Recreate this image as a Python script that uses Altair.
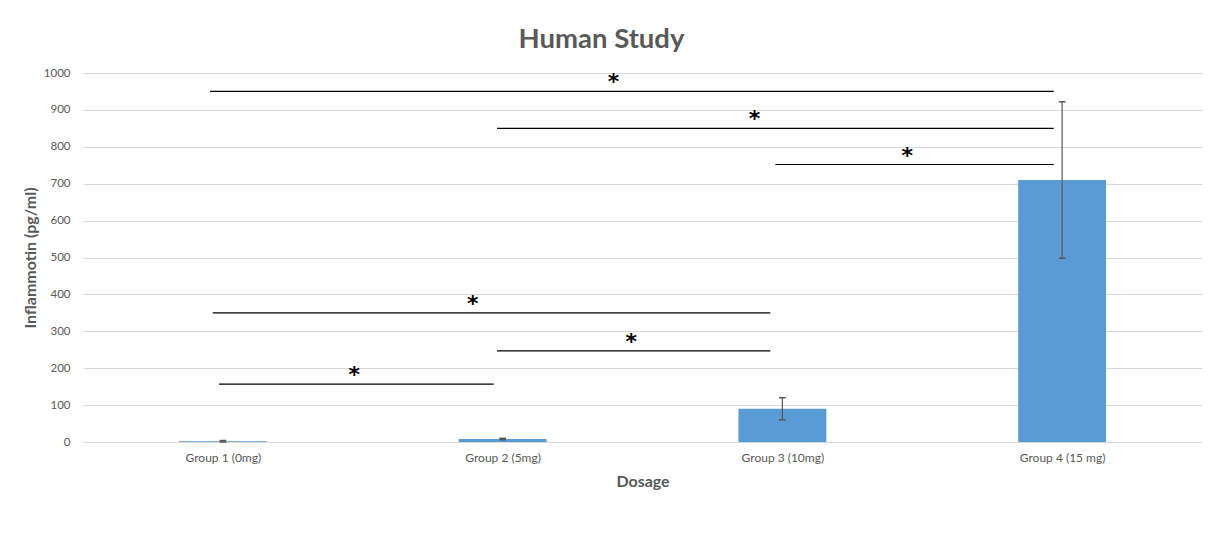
import altair as alt
import pandas as pd

# ---- data ----
groups = ["Group 1 (0mg)", "Group 2 (5mg)", "Group 3 (10mg)", "Group 4 (15 mg)"]
means = [2, 8, 90, 710]
errors = [2, 2, 30, 212]

# significance brackets (x in category units: group i centre = i + 0.5)
sig_x1 = [0.454, 1.48, 2.475, 0.464, 1.48, 0.486]
sig_x2 = [3.47, 3.47, 3.47, 2.457, 2.457, 1.468]
sig_y = [950, 850, 752, 350, 247, 157]
star_x = [1.896, 2.40, 2.946, 1.393, 1.96, 0.97]
star_label = ["*", "*", "*", "*", "*", "*"]

FONT = "Lato"
GRAY = "#595959"

bars = pd.DataFrame({"group": groups, "mean": means, "err": errors,
                     "pos": [i + 0.5 for i in range(len(groups))]})
sig = pd.DataFrame({"x1": sig_x1, "x2": sig_x2, "y": sig_y,
                    "sx": star_x, "label": star_label})

label_expr = ("datum.value == 0.5 ? '%s' : datum.value == 1.5 ? '%s' : "
              "datum.value == 2.5 ? '%s' : '%s'") % tuple(groups)

x_scale = alt.Scale(domain=[0, 4], nice=False, zero=False)
y_scale = alt.Scale(domain=[0, 1000], nice=False)

x_axis = alt.Axis(values=[0.5, 1.5, 2.5, 3.5], labelExpr=label_expr, grid=False,
                  ticks=False, domainColor="#d9d9d9", labelColor=GRAY, labelFont=FONT,
                  labelFontSize=12, labelPadding=10, title="Dosage", titleFont=FONT,
                  titleFontSize=16, titleFontWeight="bold", titleColor=GRAY,
                  titlePadding=10)
y_axis = alt.Axis(values=list(range(0, 1001, 100)), format="d", grid=True,
                  gridColor="#d9d9d9", domain=False, ticks=False, labelColor=GRAY,
                  labelFont=FONT, labelFontSize=11.5, labelPadding=13,
                  title="Inflammotin (pg/ml)", titleFont=FONT, titleFontSize=16,
                  titleFontWeight="bold", titleColor=GRAY, titlePadding=5)


def X(field):
    return alt.X(field, scale=x_scale, axis=x_axis)


def Y(field):
    return alt.Y(field, scale=y_scale, axis=y_axis)


base = alt.Chart(bars)

bar = base.mark_bar(color="#5b9bd5").transform_calculate(
    xa="datum.pos - 0.157", xb="datum.pos + 0.157", zero="0"
).encode(x=X("xa:Q"), x2="xb:Q", y=Y("mean:Q"), y2="zero:Q")

err_rule = base.mark_rule(color=GRAY, strokeWidth=1.2).transform_calculate(
    lo="datum.mean - datum.err", hi="datum.mean + datum.err"
).encode(x=X("pos:Q"), y=Y("lo:Q"), y2="hi:Q")

cap_lo = base.mark_rule(color=GRAY, strokeWidth=1.5).transform_calculate(
    lo="datum.mean - datum.err", a="datum.pos - 0.012", b="datum.pos + 0.012"
).encode(x=X("a:Q"), x2="b:Q", y=Y("lo:Q"))

cap_hi = base.mark_rule(color=GRAY, strokeWidth=1.5).transform_calculate(
    hi="datum.mean + datum.err", a="datum.pos - 0.012", b="datum.pos + 0.012"
).encode(x=X("a:Q"), x2="b:Q", y=Y("hi:Q"))

sig_lines = alt.Chart(sig).mark_rule(color="black", strokeWidth=1.2).encode(
    x=X("x1:Q"), x2="x2:Q", y=Y("y:Q")
)

stars = alt.Chart(sig).mark_text(font="DejaVu Sans", fontSize=22, fontWeight="bold",
                                 color="black", baseline="middle", dy=-9).encode(
    x=X("sx:Q"), y=Y("y:Q"), text="label:N"
)

chart = alt.layer(bar, err_rule, cap_lo, cap_hi, sig_lines, stars).properties(
    width=1119, height=369,
    title=alt.TitleParams("Human Study", font=FONT, fontSize=27.5, fontWeight="bold",
                          color=GRAY, anchor="middle", dx=-41, offset=14),
    padding={"left": 75, "top": 65, "right": 10, "bottom": 80},
    autosize=alt.AutoSizeParams(type="none"),
).configure_view(stroke=None)

chart.save("out.html", embed_options={"renderer": "svg", "actions": False})
